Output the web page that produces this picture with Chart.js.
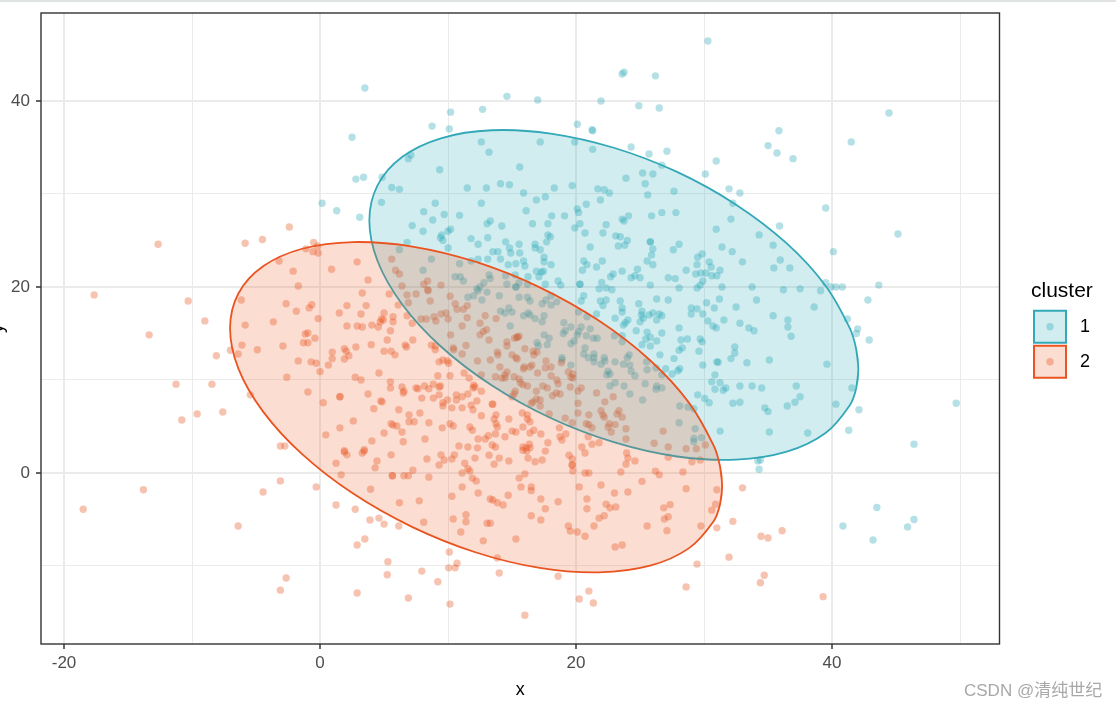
<!DOCTYPE html>
<html><head><meta charset="utf-8">
<script src="https://cdn.jsdelivr.net/npm/chart.js@4/dist/chart.umd.min.js"></script>
<style>
html,body{margin:0;padding:0;background:#fff;width:1116px;height:709px;overflow:hidden}
#c{position:absolute;left:-13px;top:0}
#topline{position:absolute;left:0;top:0;width:1116px;height:2px;background:#e0e3e4}
#mark{position:absolute;left:964px;top:676px;font:17px "Liberation Sans","Noto Sans CJK SC",sans-serif;color:#a8a8a8;white-space:nowrap}
</style></head><body>
<canvas id="c" width="1129" height="709"></canvas>
<div id="topline"></div>
<div id="mark">CSDN @清纯世纪</div>
<script>
const legendTitle = 'cluster';
const clusterNames = ['1','2'];
const xTicksShown = [-20,0,20,40];
const yTicksShown = [0,20,40];

const cluster1 = [
[2.5,36.1],[2.8,31.6],[3.4,31.8],[4.85,31.8],[7.1,34.2],[6.9,33.8],[9.35,32.6],[5.6,30.7],[6.2,30.5],[0.16,29],[1.3,28.2],[4.8,29.1],[3.1,27.5],[9,29],[8.1,28.1],[8.8,27.2],[9.7,27.8],[7.2,26.6],[8.05,26],[9.5,25.6],[9.4,25.3],[9.6,25],[10,26],[6.8,24.8],[10,24.2],[6.2,24],[8.7,23],[8.05,21.8],
[21.3,36.8],[12.6,35.6],[17.2,35.6],[19.9,35.6],[13.2,34.5],[21.3,34.8],[24.3,35.05],[25.7,34.3],[27.1,34.6],[26.7,33.1],[15.6,32.9],[25.2,32.25],[26,32.15],[23.9,31.7],[25.4,31.1],[14.1,31.1],[14.8,31],[11.5,30.65],[13,30.65],[18.3,30.65],[19.7,30.9],[21.7,30.55],[22.2,30.45],[22.6,30.1],[25.6,29.9],[15.9,30.1],[17.6,29.7],[16.9,29.35],[21.9,29.35],[12.6,29],[20.8,28.9],[20.1,28.4],[20.2,28],[16.1,28.2],[10.9,27.7],[18.1,27.65],[19.1,27.65],[24.1,27.65],[25.9,27.65],[26.7,28],[23.6,27.3],[23.75,27.1],[13.3,27.1],[13.05,26.8],[16.6,26.8],[17.8,26.8],[14.2,26.55],[20.3,26.8],[19.9,26.35],[22.35,26.7],[10.2,26.2],[20.7,25.8],[22.1,25.8],[17.8,25.6],[18,25.4],[17.7,24.85],[23.1,25.5],[23.45,25.4],[11.8,25.2],[13.1,25.3],[14.5,24.85],[12.35,24.6],[15.55,24.6],[16.8,24.6],[24,25],[23.8,24.5],[23.3,24.4],[25.8,24.85],[25.8,24.85],[21.1,24.3],[26,24.1],[14.8,24.2],[16.8,24.2],[17.2,24],[13.5,23.8],[13.9,23.8],[14.9,23.65],[15.6,23.65],[25.9,23.45],[17.5,23.2],[13.1,23],[14.1,23],[12.35,23],[11.8,22.8],[20.6,22.8],[22.05,22.8],[25.55,22.8],[15.9,22.8],[17.5,22.7],[15.3,22.5],[14.7,22.4],[16,22.25],[18.05,22.4],[20.85,22.4],[21.6,22.15],[26,22.4],[10.9,22.5],[24.8,21.9],[20.5,21.8],[23.6,21.7],[16.9,21.7],[17.45,21.7],[17.3,21.6],[22.9,21.4],[22.7,21.1],[24.3,21],[24.6,21.2],[25,21],[27.2,21],[10.55,21.1],[10.95,21.1],[11.2,20.65],[13.2,21.3],[13.3,20.9],[14.5,21.2],[15.25,21.3],[16.25,21.1],[17.1,21.1],[18.6,20.65],[18.8,20.2],[22,20.5],[20.3,20.3],[20.3,20.3],[25.8,20.2],[12.8,20.45],[12.5,20],[12.25,19.8],[14.6,20.3],[15.55,20.45],[15.3,20],[15.3,20],[16.2,20.3],[17.6,20.3],[21.8,19.8],[22.35,19.9],[22.8,19.7],
[35.85,36.8],[41.5,35.6],[35,35.2],[35.7,34.4],[36.95,33.8],[30.95,33.55],[30.1,32.15],[27.65,30.3],[31.95,30.55],[32.8,30.1],[32.25,29],[39.5,28.5],[27.8,28],[32.1,27.3],[35.9,26.55],[30.95,26.2],[34.3,25.6],[35.4,24.5],[28.05,24.6],[27.6,24],[31.4,24.3],[32.2,23.8],[29.85,23.55],[29.5,23.2],[40.1,23.8],[30.4,22.7],[33,22.7],[35.95,22.9],[29.45,22.4],[30.55,22.15],[35.45,22.05],[36.7,22.05],[28.6,21.8],[31.25,21.8],[29.35,21.4],[29.75,21.5],[30.15,21.5],[30.6,21.2],[31,21.2],[27.75,20.9],[29.9,20.65],[29.7,20.2],[29.45,19.9],[28.05,19.9],[31.4,20],[33.75,20],[39.5,20.45],[39.9,20],[40.3,20],[40.8,20],[43.65,20.2],[37.5,19.8],[36.2,19.7],[39.1,19.6],
[31.2,18.7],[34.1,18.6],[42.8,18.6],[30.2,18.3],[32.5,17.85],[38.6,17.85],[30.8,17.75],[29,17.75],[29.45,17.65],[29,17.1],[29.9,17.1],[35.4,16.9],[41.2,16.55],[36.55,16.45],[31.55,16.45],[30.3,16.35],[32.8,16.1],[30.7,15.8],[30.95,15.6],[36.55,15.7],[28.05,15.6],[33.5,15.6],[33.9,15.3],[42,15.5],[41.9,15],[36.8,14.7],[28.2,14.3],[28.7,14.4],[29.7,14.4],[29.85,14.1],[42.9,14.3],[32.4,13.55],[28.3,13.45],[28.05,13.2],[29.6,13.1],[32.4,12.9],[27.65,12.3],[32.1,12.3],[35.1,12.15],[31,11.95],[31.1,11.9],[33.35,11.85],[29.9,11.6],[39.6,11.7],[28.1,11.2],[27.95,11],[27.5,10.65],[30.85,10.55],[30.6,9.8],[31.25,9.7],[41.55,9.15],[30.85,9],[31.7,9.15],[31.5,8.9],[32.8,9.35],[33.75,9.35],[34.5,9.15],[37.2,9.35],[29.5,8.4],[30.05,8],[30.4,7.55],[37.5,8.2],[37.1,7.6],[32.25,7.5],[32.8,7.6],[36.5,7.2],[40.3,7.4],[34.75,7],[35,6.6],[42.1,6.8],[28.1,7.2],[28.75,7.1],[29.2,6.9],[28.05,5.4],[29.3,4.75],[31.25,4.5],[35.1,4.4],[38.1,4.3],[41.3,4.6],[29.8,3.8],[29.2,3.7],[29.2,3.35],
[30.3,46.45],[3.5,41.4],[14.6,40.5],[17,40.1],[21.95,40],[23.75,43.1],[23.6,42.9],[26.2,42.7],[24.9,39.5],[26.5,39.25],[10.2,38.8],[10.1,37],[8.75,37.3],[12.7,39.1],[20.1,37.5],[21.25,36.9],[44.45,38.7],[45.15,25.7],[49.7,7.5],[46.4,3.1],[43.5,-3.7],[43.2,-7.2],[40.85,-5.7],[45.9,-5.8],[46.4,-5],[34.4,1.4],[34.3,0.4],[34.2,1.3],
[11.55,18.9],[12,19.05],[12.35,19.6],[13.05,19.45],[12.65,18.6],[14,19.05],[15.55,18.9],[16.2,18.9],[16.4,18.5],[17.35,18.2],[18.05,19.05],[17.65,18.6],[18.05,18.05],[18.5,18.4],[20.6,19.05],[20.4,18.5],[21.9,18.5],[22.35,18.6],[22.1,18],[23.45,18.5],[23.6,17.75],[23.6,17.3],[24.9,18.2],[26.3,18.7],[27.2,18.6],[14.1,17.4],[14.45,17.2],[14.75,17.75],[15,17.3],[15.9,16.9],[16.25,17.2],[16.4,17],[16.8,16.6],[17.5,16.9],[17.35,16.25],[20.2,17.3],[20.85,16.8],[21.6,17.1],[23.05,16.65],[24.05,16.45],[23.85,16.15],[23.7,15.9],[25.15,17.4],[25.1,17],[25.25,16.65],[25,16.25],[25.7,17],[26,17.2],[26.5,17.1],[26.3,16.45],[26.7,16.9],[14.85,15.8],[19.05,16.15],[19.6,15.7],[20.4,15.7],[21.1,15.5],[19.15,15.3],[19,15],[20.2,15.2],[20.1,14.85],[20.8,14.75],[21.35,14.5],[21.65,14.5],[23,14.75],[23.6,14.75],[23.6,14.1],[24.7,15.3],[26.7,15.05],[25.55,15.15],[25.45,14.4],[25.8,14.6],[25.15,13.8],[25.8,13.65],[26.3,14.2],[17.5,14.85],[17.9,14.5],[17.75,13.8],[16.95,14],[17.05,13.65],[19.85,14.2],[19.6,13.9],[20.7,13.45],[20.6,12.8],[20.95,12.4],[21.4,12.8],[21.4,12.4],[21.4,11.95],[22.2,12.4],[22.25,12.05],[21.95,11.7],[23.05,11.95],[23.7,11.7],[24.15,12.7],[24,12.4],[24.2,11.6],[24.3,10.95],[24.6,10.45],[25.5,11.95],[25.55,11.1],[26.55,12.7],[26.25,11.3],[26.7,10.55],[27,11.2],[18.9,12.4],[18.9,12.15],[19.6,11.6],[22.5,10.95],[22.65,10.65],[22.4,10.55],[25.4,9.6],[22.65,9.35],[23.05,9.7],[23.75,9.35],[24.2,8.5],[26.3,9.35],[26.7,9.15],[26.25,9],[25.2,7.85]
];

const cluster2 = [
[-2.4,26.45],[-4.5,25.1],[-5.85,24.7],[-0.5,24.8],[-1.1,24.1],[-0.2,24.4],[-0.55,23.8],[-0.15,23.65],[-3.2,22.8],[-2.1,21.7],[0.9,21.9],[2.9,22.7],[3.75,20.75],[-1.7,20.1],[5.6,23],[5.9,21.8],[6.2,21.4],[6.4,20.1],[8.1,20.3],[8.4,20.65],[9.45,20.2],[8.4,19.7],
[10.55,18.2],[10.7,17.6],[11.2,17.6],[11.5,18],[10.16,19],[11.5,16.7],[12.9,16.9],[13.75,16.6],[12.5,16.1],[11.1,15.8],[13,15.4],[12.75,15.2],[12.5,14.85],[13.2,14.3],[15.4,14.6],[15.2,14.5],[15.55,14.7],[15.4,14.6],[10.2,14.85],[11.4,13.7],[14.6,14.1],[14.6,13.65],[10.45,13.25],[10.4,13.45],[11.1,12.8],[13.85,13],[13.9,12.7],[16,13.35],[16.65,13.1],[16.95,13],[16.7,12.7],[15,12.7],[15.3,12.4],[15.4,12.25],[12.3,12.05],[13.3,12.15],[17.65,12.05],[18.85,11.85],[14.05,11.4],[15.95,11.4],[15.9,11.2],[16.4,11.4],[16.55,11.6],[17.6,11.3],[18.05,11.4],[14.6,10.85],[14.45,10.55],[17,10.75],[18.05,10.45],[19.4,10.85],[19.75,10.65],[19.6,10.3],[19.75,10.2],[13.7,10.35],[14.2,10.2],[14.45,10.2],[15.15,10.35],[15.55,10.1],[15.65,9.7],[15.85,9.5],[16.2,9.35],[18.5,10],[18.6,9.6],[17.4,9.35],[17.75,9.15],[19.55,9.25],[20.4,9.15],[20.15,8.8],[16.9,8.8],[15.25,8.8],[15.15,8.5],[15,8.2],[21.6,8.6],[22.9,8.2],[18.45,8.6],[18.75,8.5],[18.15,8.3],[16.9,7.95],[17.2,7.85],[16.65,7.65],[16.5,7.5],[22.25,7.65],[20.15,7.5],[17.2,7.2],[21.95,6.7],[22.1,6.25],[22.2,6],[23.35,6.7],[23.2,6.35],[23.6,6],[17.9,6.35],[20.15,6.45],[21,6.25],[19.15,5.9],[19.7,5.4],[20.8,5.3],[21,5.2],[21.25,4.85],[22.6,5.3],[22.5,4.95],[23.05,5.2],[22.75,4.4],[23.9,4.75],[26.8,4.5],[23.9,3.65],[26.1,3.2],[27.2,2.8],[20.95,3.9],[21.8,3.25],[21.25,3.1],[20.45,2.8],[28.6,2.6],[29.4,2.6],
[11.25,10.75],[11.65,10.2],[12.6,10.55],[10.15,10.45],[12,9.45],[11.95,9.15],[12.1,9.25],[12.6,8.8],[10.65,8.4],[11.1,8.2],[11.55,8.5],[10.65,7.85],[12.25,7.75],[11.8,7.3],[11.95,6.8],[13.45,7.4],[13.5,7.4],[11.1,7],[10.3,7],[12.6,6.15],[13.75,6.25],[13.6,5.8],[13.75,5.3],[13.85,4.95],[13.7,4.2],[14.75,5.8],[15.8,6.45],[16.2,6.25],[16.2,5.8],[16.4,5.5],[11.7,4.95],[11.9,4.6],[10.15,5.3],[10.4,5.05],[15.85,4.95],[16.7,4.6],[16.4,4.3],[17.25,4.2],[15,4.5],[15.3,4.4],[18.7,4.85],[18.75,3.9],[19.2,4.2],[18.9,3.55],[14.45,3.9],[13.15,4],[12.9,3.65],[12.35,3.65],[17.8,3.25],[10.85,2.9],[11.55,2.8],[12.3,2.7],[13.45,3],[13.7,2.8],[15.85,2.8],[16.35,3.1],[16.4,2.7],[16.1,2.7],
[3.3,19.35],[5.4,19.25],[-6.15,18.6],[-2.65,18.2],[-0.65,18.1],[-0.85,17.75],[-1.85,17.4],[2.1,18],[3.6,18],[1.5,17.2],[3.2,17.1],[6.1,18.05],[6.8,19.15],[7.5,19.25],[8.45,19.6],[8.6,18.5],[6.9,18.3],[6.8,16.9],[5,17.2],[-0.15,16.6],[5.7,16.8],[5.7,16.25],[4.8,16.55],[4.95,16.45],[4.7,16.25],[-3.65,16.25],[-5.85,15.9],[2.1,15.8],[2.9,15.8],[3.3,15.7],[4.05,15.9],[4.55,15.7],[5.5,15.3],[7.2,16.1],[7.9,16.55],[8.3,16.55],[8.9,16.8],[9.05,16.35],[9.45,17.1],[9.85,17.2],[10,16.55],[-1.15,14.95],[-0.95,15.05],[-0.4,14.5],[-1.3,14],[-0.95,14],[5.25,14.3],[7.25,14.3],[-6.1,13.75],[-2.9,13.65],[4,13.8],[2.8,13.55],[-4.9,13.25],[-6.4,12.8],[6.65,13.75],[6.75,13.55],[8.7,13.75],[9,13.65],[9,13.25],[1.9,13.35],[2.05,13.1],[0.95,13],[5,13.1],[5.55,13.1],[5.85,12.7],[2.25,12.6],[0.95,12.3],[1.9,12.25],[-1.7,12.05],[-0.7,11.95],[-0.3,11.8],[0.65,11.6],[9.3,11.95],[9.95,12.05],[9.6,12.15],[10.05,11.8],[0,10.9],[4.6,10.75],[9.2,10.45],[-2.6,10.3],[2.75,10.3],[3.2,10],[5.5,9.8],[5.5,9.15],[6.4,9.25],[6.55,8.8],[6.5,8.6],[7.5,9.15],[7.65,9.05],[8.15,9.35],[8.5,9.05],[8.85,9.55],[9.3,9.25],[9.4,9.35],[-0.95,8.7],[3.75,8.5],[-5.45,8.4],[1.55,8.2],[1.55,8.2],[7.95,8.05],[8.85,8.05],[9.3,8.4],[0.25,7.55],[4.75,7.75],[4.85,7.65],[9.6,7.55],[9.6,7.2],[9.95,7.85],[4.2,6.9],[6.15,6.8],[7.8,6.45],[6.95,6.25],[6.95,5.5],[7.35,5.5],[2.6,5.6],[8.5,5.4],[5.55,5.3],[5.7,5.15],[6,5.05],[1.55,4.85],[9.55,4.85],[6.4,4.4],[5,4.3],[0.45,4.1],[8.2,3.65],[4.05,3.45],[6.5,3.35],[-3.1,2.9],[-2.75,2.9],[1.9,2.4],[3.45,2.5],
[1.9,2.25],[2.1,1.95],[3.3,2.15],[3.45,2.35],[4.45,1.3],[5.55,1.95],[8.35,1.5],[9.45,1.95],[9.7,1.4],[9.3,0.85],[1.25,1.05],[4.3,0.55],[7.25,0.3],[1.65,-0.2],[5.65,-0.3],[5.65,-0.3],[6.55,-0.3],[6.9,-0.3],[8.5,-0.45],[-3.1,-0.85],[-4.45,-2.05],[-0.3,-1.5],[3.95,-1.75],[7.75,-3],[6.2,-3.2],[1.25,-3.45],[2.75,-3.9],[3.9,-5.05],[4.6,-4.85],[5,-5.5],[8.1,-5.3],[6.15,-5.7],[-6.4,-5.7],[3.5,-7.1],[2.9,-7.75],[5.3,-9.55],[5.25,-10.95],[7.95,-10.55],[-2.65,-11.3],[-3.1,-12.6],[9.2,-11.7],[2.9,-12.9],[6.9,-13.45],[10.1,-8.5],[10.05,-10.2],[10.15,-14.1],
[10.5,1.95],[10.3,1.5],[12.1,1.6],[13.2,1.9],[14,1.6],[13.6,0.95],[14.75,1.3],[11.3,1.05],[16.25,1.6],[16.8,1.2],[17.35,1.4],[17.6,2.35],[16.15,2.35],[15.85,2.45],[19.45,1.9],[19.7,1.5],[20.7,2.15],[19.7,0.85],[19.7,0.85],[19.75,0.2],[11.1,0],[11.55,0.45],[11.7,0.2],[11.9,-0.55],[12.2,-0.85],[16,-0.1],[15.55,-0.55],[20.7,0],[21,0],[23.5,0.1],[23.9,0.95],[24.05,1.6],[23.95,2.15],[24.6,1.3],[26.2,0.2],[26.5,-0.2],[25.15,-0.9],[21.95,-1.3],[11.1,-1.5],[15.7,-1.5],[16.5,-1.5],[16.5,-1.9],[20.25,-1.5],[12.35,-2.15],[10.3,-2.5],[14.7,-2.4],[23,-2.15],[24.05,-2.05],[13.3,-2.8],[13.5,-2.9],[13.85,-3.2],[14.3,-3.45],[17.25,-2.8],[20.85,-2.8],[18.6,-3.1],[22.35,-3.35],[22.65,-3.75],[23.1,-3.65],[17.6,-3.85],[20.85,-3.85],[26.85,-3.75],[11.4,-4.5],[16.5,-4.6],[22.2,-4.6],[21.8,-4.85],[27.2,-4.7],[10.4,-4.95],[17.25,-5.05],[11.4,-5.25],[13.05,-5.4],[13.3,-5.4],[19.4,-5.7],[21.4,-5.7],[25.55,-5.7],[11,-6.35],[19.55,-6.25],[20.1,-6.35],[20.7,-6.8],[15.3,-7.1],[12.75,-7.3],[23.05,-7.95],[23.6,-7.75],[13.85,-9.15],[10.7,-9.7],[14,-10.75],[18.6,-11.1],[21,-12.7],[20.25,-13.55],[21.35,-13.98],[10.55,-10.2],
[-17.65,19.15],[-12.65,24.6],[-10.3,18.5],[-9,16.35],[-13.35,14.85],[-8.1,12.6],[-7,13.2],[-11.25,9.55],[-8.45,9.55],[-7.6,6.55],[-9.6,6.35],[-10.8,5.7],[-18.5,-3.9],[-13.8,-1.8],
[33,-1.6],[32.25,-5.2],[31.95,-9.05],[29.45,-9.8],[28.6,-12.25],[34.7,-11],[34.4,-11.8],[39.3,-13.3],[36.1,-6.2],[34.45,-6.8],[35,-7],[30.6,-4],[27.35,-3.4],[28.6,-1.7],[26.9,-4.95],[27.1,-6.2],[29.75,-5.7],[31,-5.9],[30.9,-3.35],[31,-1.8],[30.1,3],[29.7,1.4],[29.05,1.2],[28.35,0.1],[27.2,1.7],[16,-15.3]
];

const ellipse1 = [
[41.89,9.14],[42.05,11.14],[41.89,13.28],[41.4,15.51],[39.49,20.13],[36.46,24.68],[32.5,28.85],[27.89,32.37],[22.95,34.97],[18.01,36.5],[13.4,36.85],[9.44,35.99],[6.41,33.98],[4.5,30.96],[3.85,27.14],[4.5,22.77],[6.41,18.15],[9.44,13.6],[13.4,9.43],[18.01,5.91],[22.95,3.31],[27.89,1.77],[32.5,1.43],[36.46,2.29],[39.49,4.3],[41.4,7.32],[41.89,9.14],[42.05,11.14],[41.89,13.28]
];
const ellipse2 = [
[31.25,-3.37],[31.41,-1.41],[31.25,0.7],[30.76,2.92],[28.83,7.54],[25.78,12.12],[21.8,16.36],[17.16,19.96],[12.19,22.69],[7.22,24.35],[2.58,24.83],[-1.4,24.11],[-4.45,22.22],[-6.38,19.3],[-7.03,15.55],[-6.38,11.22],[-4.45,6.6],[-1.4,2.02],[2.58,-2.22],[7.22,-5.82],[12.19,-8.55],[17.16,-10.21],[21.8,-10.69],[25.78,-9.97],[28.83,-8.08],[30.76,-5.16],[31.25,-3.37],[31.41,-1.41],[31.25,0.7]
];

const tealLine='rgb(50,168,184)', orangeLine='rgb(233,84,32)';
const tealFill='rgba(30,165,180,0.2)', orangeFill='rgba(233,84,32,0.2)';
const tealPoint='rgba(30,165,180,0.33)', orangePoint='rgba(233,84,32,0.35)';
const toXY = a => a.map(p => ({x:p[0], y:p[1]}));
const isMajor = v => Math.abs(v % 20) < 1e-6;

const frameAndLegendDots = {
  id:'frameAndLegendDots',
  beforeLayout(chart){
    const lg = chart.legend;
    if (lg && !lg._wrapped){
      const f = lg.fit;
      lg.fit = function(){ f.call(this); this.width = 116.5; };
      const t = lg._drawTitle;
      lg._drawTitle = function(){ this.ctx.save(); this.ctx.translate(2,0); t.call(this); this.ctx.restore(); };
      lg._wrapped = true;
    }
  },
  afterLayout(chart){
    chart.legend.left = 1044;
    chart.legend.top = 278;
  },
  afterDatasetsDraw(chart){
    const {ctx, chartArea:a} = chart;
    ctx.save();
    ctx.strokeStyle='#333333'; ctx.lineWidth=1.4;
    ctx.strokeRect(a.left,a.top,a.right-a.left,a.bottom-a.top);
    ctx.restore();
  },
  afterDraw(chart){
    const {ctx, legend} = chart;
    const cols=[tealPoint,orangePoint];
    ctx.save();
    legend.legendHitBoxes.forEach((b,i)=>{
      ctx.fillStyle=cols[i];
      ctx.beginPath();
      ctx.arc(b.left+16,b.top+16,3.7,0,Math.PI*2);
      ctx.fill();
    });
    ctx.restore();
  }
};

const axisFont = {family:'"Liberation Sans",Arial,sans-serif', size:17};
const noScalePadding = s => { s.paddingTop=0; s.paddingBottom=0; s.paddingLeft=0; s.paddingRight=0; };
function axisConfig(minV,maxV,titleText,shown,pad){
  return {
    type:'linear', min:minV, max:maxV,
    border:{display:false},
    title:{display:true,text:titleText,color:'#000',padding:0,font:{family:axisFont.family,size:18}},
    grid:{
      color:'#ebebeb',
      lineWidth:c=>isMajor(c.tick.value)?2:1,
      tickColor:c=>shown.includes(c.tick.value)?'#333333':'rgba(0,0,0,0)',
      tickLength:5, tickWidth:1.5, drawOnChartArea:true
    },
    ticks:{
      stepSize:10, includeBounds:false, autoSkip:false, maxRotation:0, minRotation:0,
      color:'#4d4d4d', font:axisFont, padding:pad,
      callback:v=>shown.includes(v)?String(v):''
    }
  };
}
const xAxis = axisConfig(-21.8,53.08,'x',xTicksShown,4);
xAxis.afterFit = s => { s.height = 57; noScalePadding(s); };
const yAxis = axisConfig(-18.39,49.46,'y',yTicksShown,6);
yAxis.afterFit = s => { s.width = 54; noScalePadding(s); };

new Chart(document.getElementById('c'),{
  type:'scatter',
  data:{datasets:[
    {label:clusterNames[0],data:toXY(cluster1),order:4,backgroundColor:tealPoint,borderWidth:0,pointRadius:3.7},
    {label:clusterNames[1],data:toXY(cluster2),order:3,backgroundColor:orangePoint,borderWidth:0,pointRadius:3.7},
    {label:'ellipse '+clusterNames[0],data:toXY(ellipse1),order:2,showLine:true,fill:'shape',tension:0.34,pointRadius:0,borderColor:tealLine,backgroundColor:tealFill,borderWidth:1.8},
    {label:'ellipse '+clusterNames[1],data:toXY(ellipse2),order:1,showLine:true,fill:'shape',tension:0.34,pointRadius:0,borderColor:orangeLine,backgroundColor:orangeFill,borderWidth:1.8}
  ]},
  options:{
    responsive:false, animation:false, devicePixelRatio:1,
    layout:{padding:{top:13,left:0,right:0,bottom:8}},
    events:[],
    scales:{x:xAxis,y:yAxis},
    plugins:{
      tooltip:{enabled:false},
      filler:{propagate:false},
      legend:{
        display:true, position:'right', align:'start',
        title:{display:true,text:legendTitle,color:'#000',position:'start',padding:{top:2.5,bottom:2.1},font:{family:axisFont.family,size:21}},
        labels:{
          boxWidth:32, boxHeight:32, padding:3, color:'#000',
          font:{family:axisFont.family,size:18},
          generateLabels:()=>[
            {text:' '+clusterNames[0],fillStyle:tealFill,strokeStyle:tealLine,lineWidth:2,datasetIndex:0},
            {text:' '+clusterNames[1],fillStyle:orangeFill,strokeStyle:orangeLine,lineWidth:2,datasetIndex:1}
          ]
        }
      }
    }
  },
  plugins:[frameAndLegendDots]
});
</script>
</body></html>
